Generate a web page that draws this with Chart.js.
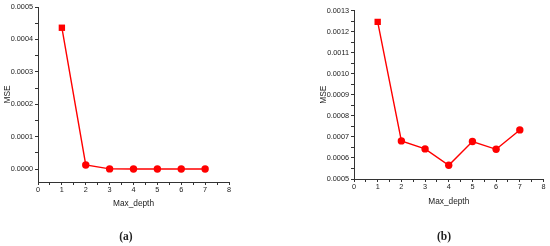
<!DOCTYPE html>
<html>
<head>
<meta charset="utf-8">
<script src="https://cdn.jsdelivr.net/npm/chart.js@4"></script>
<style>
  body { margin: 0; background: #fff; }
  #wrap { position: relative; width: 550px; height: 246px; overflow: hidden; }
  .panel { position: absolute; top: 0; width: 275px; height: 246px; }
  .cap { position: absolute; font-family: "Liberation Serif", serif; font-weight: bold; font-size: 11.5px; color: #222; transform: translate(-50%, -50%); }
</style>
</head>
<body>
<div id="wrap">
  <div class="panel" style="left:0"><canvas id="chartA" width="275" height="246"></canvas></div>
  <div class="panel" style="left:275px"><canvas id="chartB" width="275" height="246"></canvas></div>
  <div class="cap" style="left:126px; top:236px">(a)</div>
  <div class="cap" style="left:444px; top:236px">(b)</div>
</div>
<script>
// data
const depths = [1, 2, 3, 4, 5, 6, 7];
const mseA = [0.000436, 0.0000125, 0.0000005, 0.0000003, 0.0000003, 0.0000003, 0.0000003];
const mseB = [0.001246, 0.000681, 0.000643, 0.000565, 0.000678, 0.000641, 0.000733];

const xTicks = [0, 1, 2, 3, 4, 5, 6, 7, 8];
const yTicksA = [0, 0.0001, 0.0002, 0.0003, 0.0004, 0.0005];
const yTicksB = [0.0005, 0.0006, 0.0007, 0.0008, 0.0009, 0.0010, 0.0011, 0.0012, 0.0013];

const axisColor = '#333';
const tickFont = { family: 'Liberation Sans, Arial, sans-serif', size: 7.3 };
const titleFont = { family: 'Liberation Sans, Arial, sans-serif', size: 8.3 };

// majors plus a minor tick halfway between each pair
function withMinors(majors) {
  let out = [];
  for (let i = 0; i < majors.length; i++) {
    out.push(majors[i]);
    if (i < majors.length - 1) out.push((majors[i] + majors[i + 1]) / 2);
  }
  return out;
}
function isMajor(v, majors) {
  return majors.some(m => Math.abs(m - v) < 1e-9);
}

function makeChart(id, values, yTicks, yMin, yMax, lay) {
  const ctx = document.getElementById(id).getContext('2d');
  return new Chart(ctx, {
    type: 'line',
    data: {
      datasets: [{
        data: depths.map((d, i) => ({ x: d, y: values[i] })),
        borderColor: '#ff0000',
        backgroundColor: '#ff0000',
        borderWidth: 1.4,
        pointStyle: depths.map((d, i) => i === 0 ? 'rect' : 'circle'),
        pointRadius: depths.map((d, i) => i === 0 ? 4.5 : 3.7),
        pointBorderWidth: 0,
        tension: 0
      }]
    },
    options: {
      responsive: false,
      animation: false,
      events: [],
      layout: { padding: { left: 0, top: lay.top, right: lay.right, bottom: 0 } },
      plugins: { legend: { display: false }, tooltip: { enabled: false } },
      scales: {
        x: {
          type: 'linear',
          min: 0, max: 8,
          afterBuildTicks: s => { s.ticks = withMinors(xTicks).map(v => ({ value: v })); },
          afterFit: s => { s.height = lay.xh; },
          grid: { drawOnChartArea: false, drawTicks: true, tickLength: 3, tickColor: axisColor },
          border: { display: true, color: axisColor, width: 1 },
          ticks: {
            autoSkip: false, maxRotation: 0, padding: 1, color: '#222', font: tickFont,
            callback: v => isMajor(v, xTicks) ? String(v) : ''
          },
          title: { display: true, text: 'Max_depth', color: '#222', font: titleFont, padding: { top: 4, bottom: lay.xtp } }
        },
        y: {
          type: 'linear',
          min: yMin, max: yMax,
          afterBuildTicks: s => { s.ticks = withMinors(yTicks).map(v => ({ value: v })); },
          afterFit: s => { s.width = lay.yw; },
          grid: { drawOnChartArea: false, drawTicks: true, tickLength: 3, tickColor: axisColor },
          border: { display: true, color: axisColor, width: 1 },
          ticks: {
            autoSkip: false, padding: 2, color: '#222', font: tickFont,
            callback: v => isMajor(v, yTicks) ? v.toFixed(4) : ''
          },
          title: { display: true, text: 'MSE', color: '#222', font: titleFont, padding: { top: lay.ytp, bottom: 0 } }
        }
      }
    }
  });
}

makeChart('chartA', mseA, yTicksA, -0.00004, 0.0005, { top: 7, right: 46, xh: 64, yw: 38, xtp: 37, ytp: 3 });
makeChart('chartB', mseB, yTicksB, 0.0005, 0.0013, { top: 10.5, right: 6.5, xh: 67, yw: 79, xtp: 39.5, ytp: 44 });
</script>
</body>
</html>
